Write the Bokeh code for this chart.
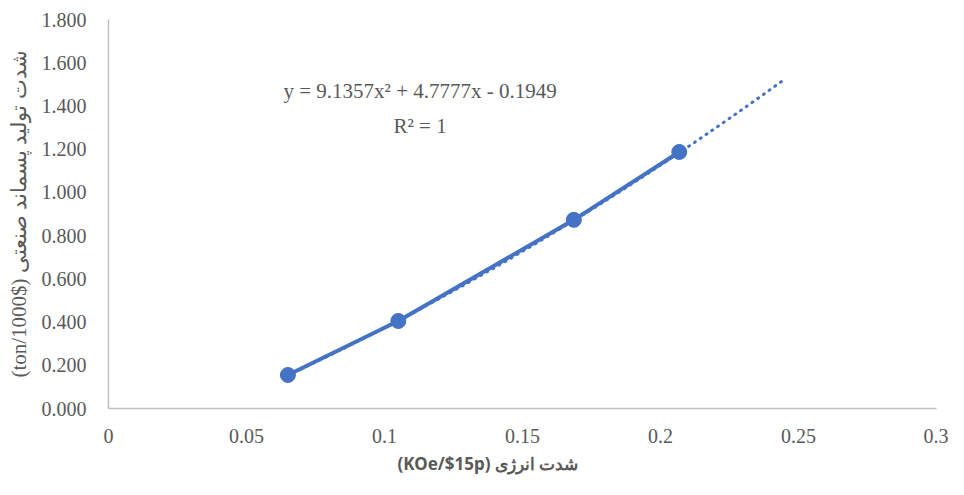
from bokeh.plotting import figure
from bokeh.models import FixedTicker, Range1d, Label, CustomJSTickFormatter, Title
from bokeh.embed import file_html
from bokeh.resources import INLINE
import numpy as np

# data
x_vals = [0.065, 0.105, 0.1686, 0.2068]
y_vals = [0.155, 0.405, 0.873, 1.187]
# trendline coefficients shown on chart (y = a x^2 + b x + c)
trend_coef = [9.1357, 4.7777, -0.1949]
trend_start = 0.065
trend_end = 0.245
x_ticks = [0, 0.05, 0.1, 0.15, 0.2, 0.25, 0.3]
y_ticks = [0, 0.2, 0.4, 0.6, 0.8, 1.0, 1.2, 1.4, 1.6, 1.8]

BLUE = "#4472C4"
GRAY = "#595959"
SERIF = "'Liberation Serif', serif"

p = figure(width=948, height=479, output_backend="svg", toolbar_location=None,
           x_range=Range1d(0, 0.3), y_range=Range1d(0, 1.8),
           min_border_left=108, min_border_right=12, min_border_top=19, min_border_bottom=10)
p.outline_line_color = None
p.xgrid.visible = False
p.ygrid.visible = False

# trendline
tx = np.linspace(trend_start, trend_end, 100)
ty = trend_coef[0] * tx ** 2 + trend_coef[1] * tx + trend_coef[2]
p.line(tx, ty, line_color=BLUE, line_width=3, line_dash="1 6", line_cap="round")

# series
p.line(x_vals, y_vals, line_color=BLUE, line_width=4, line_cap="round", line_join="round")
p.scatter(x_vals, y_vals, size=15, fill_color=BLUE, line_color=BLUE)

# equation labels
p.add_layout(Label(x=0.1129, y=1.468, text="y = 9.1357x² + 4.7777x - 0.1949",
                   text_align="center", text_baseline="middle", text_font=SERIF,
                   text_font_size="21px", text_color=GRAY))
p.add_layout(Label(x=0.1129, y=1.309, text="R² = 1",
                   text_align="center", text_baseline="middle", text_font=SERIF,
                   text_font_size="21px", text_color=GRAY))

# axes
for ax in (p.xaxis[0], p.yaxis[0]):
    ax.axis_line_color = "#BFBFBF"
    ax.axis_line_width = 1.5
    ax.major_tick_line_color = None
    ax.minor_tick_line_color = None
    ax.major_tick_out = 0
    ax.major_tick_in = 0
    ax.major_label_text_font = SERIF
    ax.major_label_text_font_size = "20px"
    ax.major_label_text_color = GRAY

p.xaxis.ticker = FixedTicker(ticks=x_ticks)
p.xaxis.formatter = CustomJSTickFormatter(code="return tick.toString();")
p.xaxis.major_label_standoff = 20

# x axis title (left of centre as in the reference)
p.add_layout(Title(text="(KOe/$15p) شدت انرژی", align="left", offset=289, standoff=9,
                   text_font="Noto Sans", text_font_style="bold", text_font_size="17px",
                   text_color=GRAY), "below")

p.yaxis.ticker = FixedTicker(ticks=y_ticks)
p.yaxis.formatter = CustomJSTickFormatter(code="return tick.toFixed(3);")
p.yaxis.major_label_standoff = 22
p.yaxis.axis_label = "(ton/1000$) شدت تولید پسماند صنعتی"
p.yaxis.axis_label_text_font = SERIF
p.yaxis.axis_label_text_font_style = "normal"
p.yaxis.axis_label_text_font_size = "21px"
p.yaxis.axis_label_text_color = GRAY
p.yaxis.axis_label_standoff = 8

open("out.html", "w").write(file_html(p, INLINE))
